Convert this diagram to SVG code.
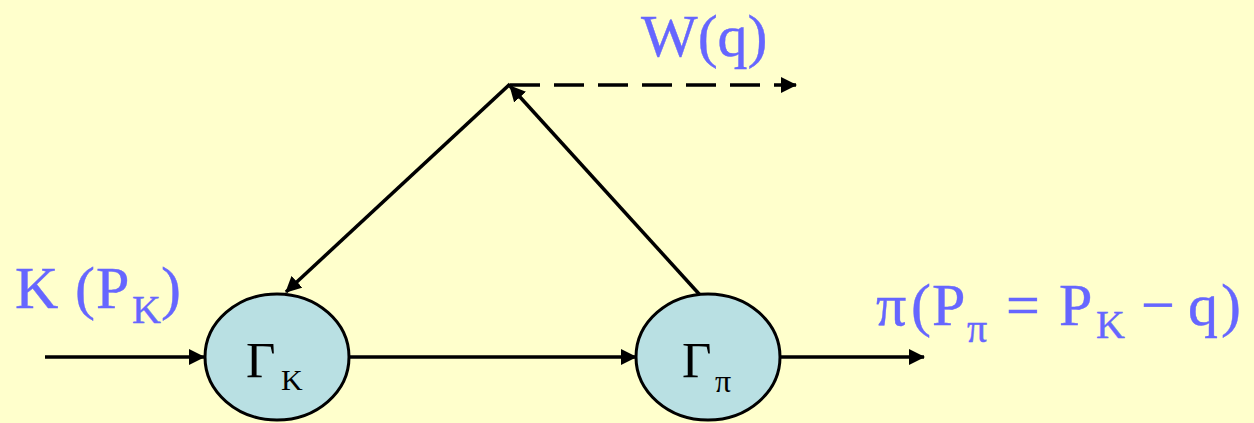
<svg xmlns="http://www.w3.org/2000/svg" width="1254" height="423" viewBox="0 0 1254 423">
<style>
.bg{fill:#FFFFCC}
.node{fill:#B9E0E3;stroke:#000;stroke-width:3}
.ln{stroke:#000;stroke-width:3.5;fill:none}
.dash{stroke-dasharray:30,14}
.lbl{font-family:"Liberation Serif","Times New Roman",serif;fill:#6666FF;stroke:#6666FF;stroke-width:0.4;font-size:60px}
.sub{font-size:40px}
.sym{font-family:"Liberation Serif","Times New Roman",serif;fill:#000;font-size:51px}
</style>
<defs>
<marker id="ah" viewBox="0 0 16 16" refX="15" refY="8" markerWidth="16" markerHeight="16" markerUnits="userSpaceOnUse" orient="auto">
<path d="M0,0 L16,8 L0,16 z" fill="#000"/>
</marker>
</defs>
<rect class="bg" x="0" y="0" width="1254" height="423"/>
<g id="connectors">
<line class="ln" x1="45" y1="357" x2="204" y2="357" marker-end="url(#ah)"/>
<line class="ln" x1="349" y1="357" x2="636" y2="357" marker-end="url(#ah)"/>
<line class="ln" x1="780" y1="357" x2="924" y2="357" marker-end="url(#ah)"/>
<line class="ln" x1="510" y1="84" x2="286" y2="292" marker-end="url(#ah)"/>
<line class="ln" x1="700" y1="295" x2="510" y2="86" marker-end="url(#ah)"/>
<line class="ln dash" x1="510" y1="85" x2="796" y2="85" marker-end="url(#ah)"/>
</g>
<g id="node-gammaK">
<ellipse class="node" cx="277" cy="357" rx="72" ry="63"/>
<text class="sym" x="246" y="377">Γ<tspan font-size="30" x="281" y="390">K</tspan></text>
</g>
<g id="node-gammaPi">
<ellipse class="node" cx="708" cy="357" rx="72" ry="63"/>
<text class="sym" x="682" y="377">Γ<tspan font-size="32" x="715" y="392">π</tspan></text>
</g>
<g id="label-K">
<text class="lbl" y="308"><tspan x="15">K</tspan><tspan x="75">(</tspan><tspan x="96">P</tspan><tspan class="sub" x="132" y="323">K</tspan><tspan x="161" y="308">)</tspan></text>
</g>
<g id="label-W">
<text class="lbl" x="641" y="56" font-size="62">W(q)</text>
</g>
<g id="label-pi">
<text class="lbl" y="325"><tspan x="876">π</tspan><tspan x="911">(</tspan><tspan x="932">P</tspan><tspan class="sub" x="967" y="342">π</tspan><tspan x="1006" y="325">=</tspan><tspan x="1059">P</tspan><tspan class="sub" x="1096" y="338">K</tspan><tspan x="1141" y="325">−</tspan><tspan x="1188">q</tspan><tspan x="1221">)</tspan></text>
</g>
</svg>
